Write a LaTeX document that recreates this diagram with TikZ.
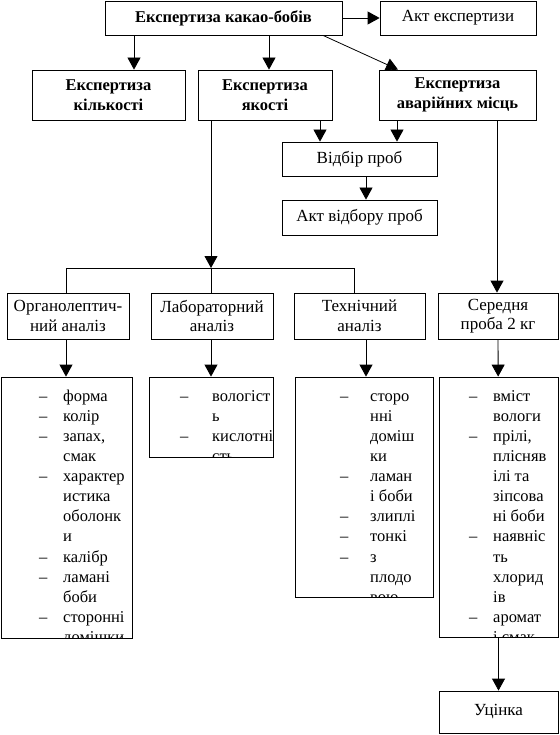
\documentclass[tikz,border=0pt]{standalone}
\usepackage{fontspec}
\setmainfont{Liberation Serif}
\usetikzlibrary{arrows.meta}

\begin{document}
\begin{tikzpicture}[x=1pt,y=-1pt]
\tikzset{
  box/.style={draw,line width=0.8pt,inner sep=0pt,align=center,font=\fontsize{17}{19.5}\selectfont},
  boldbox/.style={box,font=\fontsize{16.5}{19.6}\selectfont\bfseries},
  listbox/.style={draw,line width=0.8pt,inner sep=0pt},
  listtext/.style={anchor=north west,inner sep=0pt,font=\fontsize{16.5}{20.1}\selectfont},
  arr/.style={-{Triangle[length=12pt,width=13pt]},line width=0.8pt},
  plain/.style={line width=0.8pt}
}
\useasboundingbox (0,0) rectangle (559,735);
% top rows
\node[boldbox,minimum width=237,minimum height=34] (n_top) at (223.5,18) {Експертиза какао-бобів};
\node[box,minimum width=156,minimum height=34] (n_act) at (458,18) {Акт експертизи};
\node[boldbox,minimum width=153,minimum height=50] (n_qty) at (108.5,95) {Експертиза\\кількості};
\node[boldbox,minimum width=134,minimum height=50] (n_qual) at (265,95) {Експертиза\\якості};
\node[boldbox,minimum width=157,minimum height=50] (n_dmg) at (457.5,95) {Експертиза\\аварійних місць};
\node[box,minimum width=155,minimum height=34] (n_sel) at (359.5,159) {Відбір проб};
\node[box,minimum width=155,minimum height=35] (n_sact) at (359.5,217.5) {Акт відбору проб};
% analyses
\node[box,minimum width=122,minimum height=46] (n_org) at (68,316) {Органолептич-\\ний аналіз};
\node[box,minimum width=122,minimum height=46] (n_lab) at (212,316) {Лабораторний\\аналіз};
\node[box,minimum width=131,minimum height=46] (n_tech) at (359.5,316) {Технічний\\аналіз};
\node[box,minimum width=120,minimum height=46] (n_avg) at (498,316) {Середня\\проба 2 кг};
\node[box,minimum width=119,minimum height=42] (n_mark) at (498.5,712) {Уцінка};
% lists
\node[listbox,minimum width=131,minimum height=261] (n_org_l) at (66.5,507.5) {};
\node[listbox,minimum width=124,minimum height=80] (n_lab_l) at (211,417) {};
\node[listbox,minimum width=138,minimum height=220] (n_tech_l) at (364,487) {};
\node[listbox,minimum width=119,minimum height=260] (n_avg_l) at (498.5,507) {};
\begin{scope}
\clip (n_org_l.south west) rectangle (n_org_l.north east);
\node[listtext] (n_org_t) at (39,387) {\begin{tabular}{@{}p{24pt}@{}l@{}}
– & форма\\ – & колір\\ – & запах,\\ & смак\\ – & характер\\ & истика\\ & оболонк\\ & и\\
– & калібр\\ – & ламані\\ & боби\\ – & сторонні\\ & домішки\end{tabular}};
\end{scope}
\begin{scope}
\clip (n_lab_l.south west) rectangle (n_lab_l.north east);
\node[listtext] (n_lab_t) at (180,387) {\begin{tabular}{@{}p{32pt}@{}l@{}}
– & вологіст\\ & ь\\ – & кислотні\\ & сть\end{tabular}};
\end{scope}
\begin{scope}
\clip (n_tech_l.south west) rectangle (n_tech_l.north east);
\node[listtext] (n_tech_t) at (340,387) {\begin{tabular}{@{}p{30pt}@{}l@{}}
– & сторо\\ & нні\\ & доміш\\ & ки\\ – & ламан\\ & і боби\\ – & злиплі\\ – & тонкі\\ – & з\\ & плодо\\ & вою\end{tabular}};
\end{scope}
\begin{scope}
\clip (n_avg_l.south west) rectangle (n_avg_l.north east);
\node[listtext] (n_avg_t) at (469,387) {\begin{tabular}{@{}p{24pt}@{}l@{}}
– & вміст\\ & вологи\\ – & прілі,\\ & плісняв\\ & ілі та\\ & зіпсова\\ & ні боби\\ – & наявніс\\ & ть\\ & хлорид\\ & ів\\
– & аромат\\ & і смак\end{tabular}};
\end{scope}
% columns
\coordinate (c_qty) at (134,0);
\coordinate (c_qual) at (269,0);
\coordinate (c_da) at (323,0);
\coordinate (c_db) at (398,0);
\coordinate (c_left) at (211,0);
\coordinate (c_s1) at (320,0);
\coordinate (c_s2) at (397,0);
\coordinate (c_mid) at (366,0);
\coordinate (c_right) at (497,0);
\coordinate (c_bar) at (0,268);
\coordinate (c_orgx) at (66,0);
\coordinate (c_techx) at (354,0);
% connectors
\draw[arr] (n_top) -- (n_act);
\draw[arr] (n_top.south -| c_qty) -- (n_qty.north -| c_qty);
\draw[arr] (n_top.south -| c_qual) -- (n_qual.north -| c_qual);
\draw[arr] (n_top.south -| c_da) -- (n_dmg.north -| c_db);
\draw[arr] (n_qual.south -| c_s1) -- (n_sel.north -| c_s1);
\draw[arr] (n_dmg.south -| c_s2) -- (n_sel.north -| c_s2);
\draw[arr] (n_sel.south -| c_mid) -- (n_sact.north -| c_mid);
\draw[arr] (n_qual.south -| c_left) -- (c_bar -| c_left);
\draw[plain] (c_bar -| c_orgx) -- (c_bar -| c_techx);
\draw[plain] (c_bar -| c_orgx) -- (n_org.north -| c_orgx);
\draw[plain] (c_bar -| c_left) -- (n_lab.north -| c_left);
\draw[plain] (c_bar -| c_techx) -- (n_tech.north -| c_techx);
\draw[arr] (n_dmg.south -| c_right) -- (n_avg.north -| c_right);
\draw[arr] (n_org.south -| c_orgx) -- (n_org_l.north -| c_orgx);
\draw[arr] (n_lab.south -| c_left) -- (n_lab_l.north -| c_left);
\draw[arr] (n_tech.south -| c_mid) -- (n_tech_l.north -| c_mid);
\draw[arr] (n_avg) -- (n_avg_l);
\draw[arr] (n_avg_l) -- (n_mark);
\end{tikzpicture}
\end{document}
